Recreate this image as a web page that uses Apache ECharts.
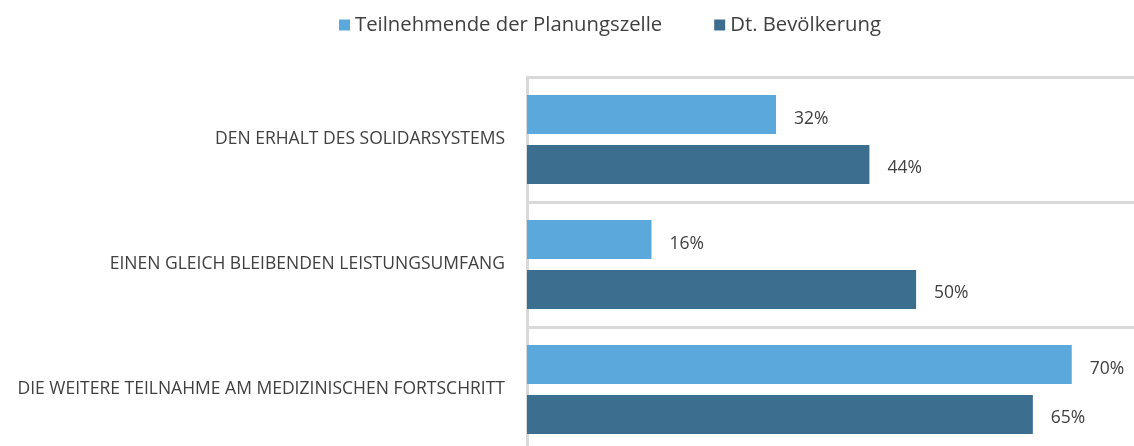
<!DOCTYPE html>
<html>
<head>
<meta charset="utf-8">
<script src="https://cdn.jsdelivr.net/npm/echarts@6/dist/echarts.min.js"></script>
<style>
  html, body { margin: 0; padding: 0; background: #fff; }
  #chart { width: 1134px; height: 446px; }
</style>
</head>
<body>
<div id="chart"></div>
<script>
const categories = [
  'DEN ERHALT DES SOLIDARSYSTEMS',
  'EINEN GLEICH BLEIBENDEN LEISTUNGSUMFANG',
  'DIE WEITERE TEILNAHME AM MEDIZINISCHEN FORTSCHRITT'
]
const seriesNames = ['Teilnehmende der Planungszelle', 'Dt. Bevölkerung']
const planungszelle = [32, 16, 70]
const bevoelkerung = [44, 50, 65]

const textColor = '#404040'
const fontFamily = '"Open Sans", sans-serif'

const chart = echarts.init(document.getElementById('chart'))

const valueLabel = {
  show: true,
  position: 'right',
  distance: 18,
  offset: [0, 4],
  formatter: '{c}%',
  color: textColor,
  fontSize: 17.5,
  fontFamily
}

chart.setOption({
  animation: false,
  legend: {
    data: seriesNames,
    top: 10,
    left: 334,
    itemWidth: 11,
    itemHeight: 11,
    itemGap: 52,
    icon: 'rect',
    textStyle: { color: textColor, fontSize: 20.3, fontFamily }
  },
  grid: {
    left: 527,
    right: 0,
    top: 77,
    height: 375,
    outerBoundsMode: 'none',
    containLabel: false
  },
  xAxis: {
    type: 'value',
    min: 0,
    max: 78,
    show: false
  },
  yAxis: {
    type: 'category',
    inverse: true,
    data: categories,
    axisTick: { show: false },
    axisLine: { show: true, lineStyle: { color: '#d9d9d9', width: 3 } },
    axisLabel: {
      color: textColor,
      fontSize: 17.5,
      fontFamily,
      margin: 22,
      padding: [8, 0, 0, 0]
    },
    splitLine: { show: true, lineStyle: { color: '#d9d9d9', width: 3 } }
  },
  series: [
    {
      name: seriesNames[0],
      type: 'bar',
      data: planungszelle,
      barWidth: 39,
      barGap: '28%',
      itemStyle: { color: '#5BA8DC' },
      label: valueLabel
    },
    {
      name: seriesNames[1],
      type: 'bar',
      data: bevoelkerung,
      barWidth: 39,
      barGap: '28%',
      itemStyle: { color: '#3C6E8F' },
      label: valueLabel
    }
  ]
})
</script>
</body>
</html>
